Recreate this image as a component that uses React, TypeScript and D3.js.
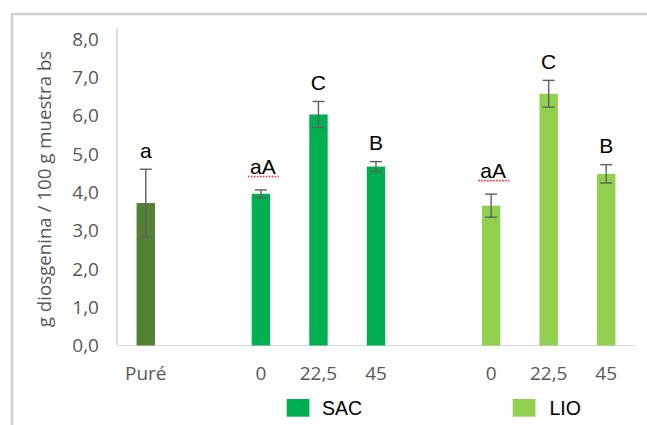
import React from "react";
import * as d3 from "d3";

// Diosgenin content per treatment (g / 100 g dry sample)
const categories = ["Puré", "gap1", "SAC-0", "SAC-22,5", "SAC-45", "gap2", "LIO-0", "LIO-22,5", "LIO-45"];
const tickLabels = ["Puré", "", "0", "22,5", "45", "", "0", "22,5", "45"];
const groups = ["Puré", null, "SAC", "SAC", "SAC", null, "LIO", "LIO", "LIO"];
const means = [3.72, null, 3.96, 6.03, 4.67, null, 3.65, 6.57, 4.48];
const errors = [0.88, null, 0.1, 0.34, 0.13, null, 0.3, 0.35, 0.24];
const letters = ["a", null, "aA", "C", "B", null, "aA", "C", "B"];
const yTicks = [0, 1, 2, 3, 4, 5, 6, 7, 8];
const legendSeries = ["SAC", "LIO"];

const colors: Record<string, string> = {
  "Puré": "#548235",
  SAC: "#00B050",
  LIO: "#92D050",
};

const W = 647;
const H = 425;
const plot = { left: 117, right: 635, top: 28, bottom: 345.5 };
const grayFont = "'Open Sans', sans-serif";
const blackFont = "'Liberation Sans', Arial, sans-serif";

export default function App() {
  const x = d3
    .scaleBand<string>()
    .domain(categories)
    .range([plot.left, plot.right])
    .paddingInner(0.68)
    .paddingOuter(0.34);
  const y = d3.scaleLinear().domain([0, 8]).range([plot.bottom, 39]);
  const fmt = (v: number) => d3.format(".1f")(v).replace(".", ",");
  const bw = x.bandwidth();

  const legendPos = [
    { sx: 286.7, tx: 322 },
    { sx: 512.7, tx: 549.5 },
  ];

  return (
    <svg
      width={W}
      height={H}
      style={{ position: "absolute", left: 0, top: 0, display: "block", background: "#fff" }}
    >
      {/* chart frame */}
      <path d={`M12,${H + 2} L12,14 L${W + 2},14`} fill="none" stroke="#d0d0d0" strokeWidth={2.5} />

      {/* axes */}
      <line x1={plot.left} x2={plot.left} y1={plot.top} y2={plot.bottom} stroke="#bfbfbf" strokeWidth={1} />
      <line x1={plot.left} x2={plot.right} y1={plot.bottom} y2={plot.bottom} stroke="#d9d9d9" strokeWidth={1.2} />

      {/* y tick labels */}
      {yTicks.map((t) => (
        <text
          key={t}
          x={99}
          y={y(t) + 6.8}
          textAnchor="end"
          fontFamily={grayFont}
          fontSize={19}
          fill="#595959"
        >
          {fmt(t)}
        </text>
      ))}

      {/* y axis title */}
      <text
        transform={`translate(51,189) rotate(-90)`}
        textAnchor="middle"
        fontFamily={grayFont}
        fontSize={18.7}
        fill="#595959"
      >
        g diosgenina / 100 g muestra bs
      </text>

      {/* bars, error bars and significance letters */}
      {categories.map((c, i) => {
        const m = means[i];
        const g = groups[i];
        if (m == null || g == null) return null;
        const e = errors[i] as number;
        const x0 = x(c) as number;
        const cx = x0 + bw / 2;
        const yTop = y(m + e);
        const yBot = y(m - e);
        const letter = letters[i] as string;
        const underline = letter === "aA";
        return (
          <g key={c}>
            <rect x={x0} y={y(m)} width={bw} height={y(0) - y(m)} fill={colors[g]} />
            <line x1={cx} x2={cx} y1={yTop} y2={yBot} stroke="#606060" strokeWidth={1.4} />
            <line x1={cx - 6} x2={cx + 6} y1={yTop} y2={yTop} stroke="#606060" strokeWidth={1.4} />
            <line x1={cx - 6} x2={cx + 6} y1={yBot} y2={yBot} stroke="#606060" strokeWidth={1.4} />
            <text
              x={cx + (underline ? 2 : 0)}
              y={yTop - (underline ? 16 : 11.5)}
              textAnchor="middle"
              fontFamily={blackFont}
              fontSize={21}
              fill="#000"
            >
              {letter}
            </text>
            {underline && (
              <line
                x1={cx - 13}
                x2={cx + 18}
                y1={yTop - 13.5}
                y2={yTop - 13.5}
                stroke="#ff2a2a"
                strokeWidth={1.6}
                strokeDasharray="1.6 1.4"
              />
            )}
          </g>
        );
      })}

      {/* x tick labels */}
      {categories.map((c, i) =>
        tickLabels[i] ? (
          <text
            key={c}
            x={(x(c) as number) + bw / 2}
            y={380}
            textAnchor="middle"
            fontFamily={grayFont}
            fontSize={19}
            fill="#595959"
          >
            {tickLabels[i]}
          </text>
        ) : null
      )}

      {/* legend */}
      {legendSeries.map((s, i) => (
        <g key={s}>
          <rect x={legendPos[i].sx} y={399} width={22.7} height={17.7} fill={colors[s]} />
          <text x={legendPos[i].tx} y={415} fontFamily={blackFont} fontSize={19.5} fill="#000">
            {s}
          </text>
        </g>
      ))}
    </svg>
  );
}
